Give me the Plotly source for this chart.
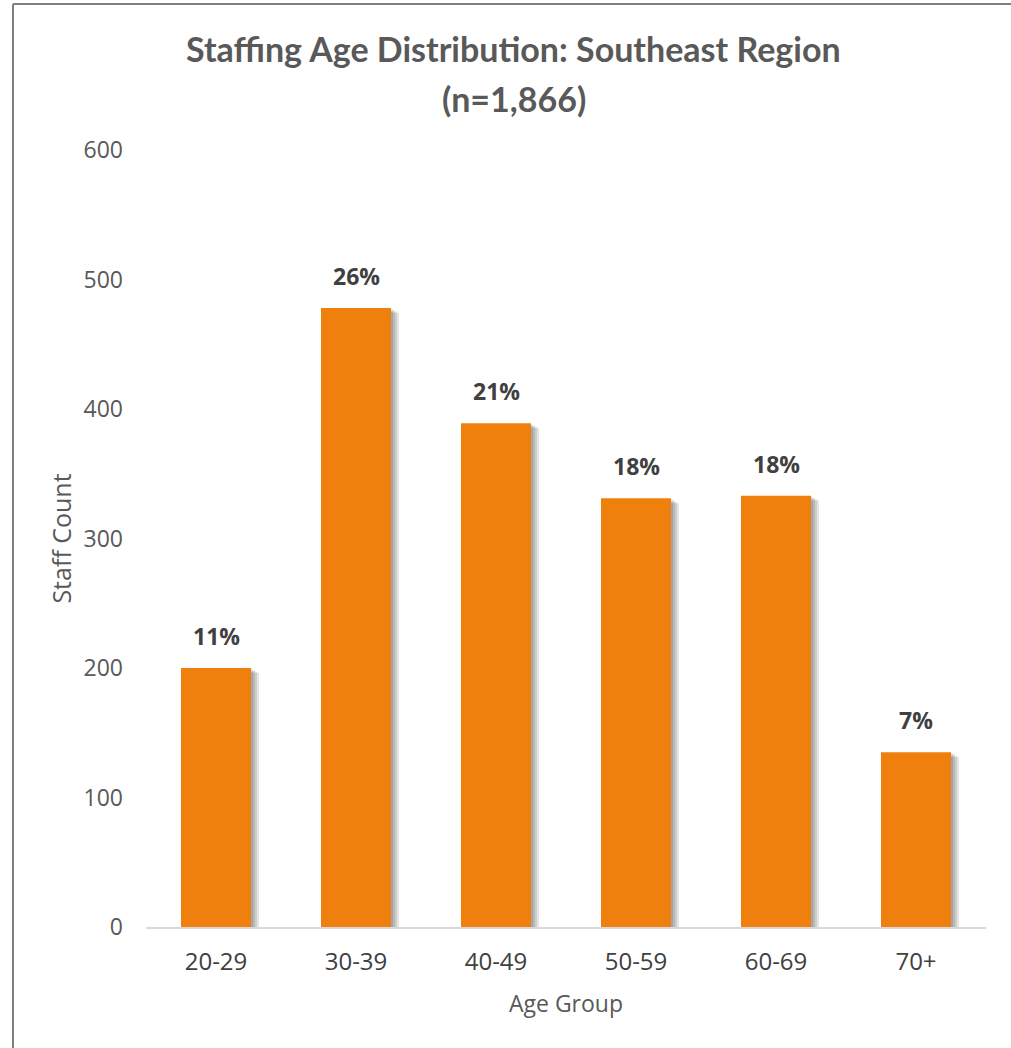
import plotly.graph_objects as go

# Staff counts by age band
age_groups = ["20-29", "30-39", "40-49", "50-59", "60-69", "70+"]
staff_counts = [200, 478, 389, 331, 333, 135]
y_ticks = [0, 100, 200, 300, 400, 500, 600]

total = sum(staff_counts)
pct_labels = [f"{round(100 * c / total)}%" for c in staff_counts]

W, H = 1011, 1048
margin = dict(l=146, r=25, t=150, b=121)
plot_w = W - margin["l"] - margin["r"]
plot_h = H - margin["t"] - margin["b"]
y_max = 600
px_x = len(age_groups) / plot_w      # category units per pixel
px_y = y_max / plot_h                # value units per pixel

BAR_W = 0.5
ORANGE = "#EF800D"
GREY_TXT = "#595959"
SANS = "Open Sans, Noto Sans, sans-serif"


def paper_x(px):
    return (px - margin["l"]) / plot_w


def paper_y(px_from_top):
    return (H - margin["b"] - px_from_top) / plot_h


fig = go.Figure()

# soft drop shadow: a few translucent grey copies of the bars, nudged right/down
for d in (2, 4, 6, 8):
    fig.add_trace(go.Bar(
        x=age_groups, y=staff_counts,
        base=[-d * px_y * 0.6] * len(staff_counts),
        width=BAR_W, offset=-BAR_W / 2 + d * px_x,
        marker=dict(color="rgba(0,0,0,0.1)", line=dict(width=0)),
        hoverinfo="skip", showlegend=False,
    ))

fig.add_trace(go.Bar(
    x=age_groups, y=staff_counts,
    width=BAR_W, offset=-BAR_W / 2,
    marker=dict(color=ORANGE, line=dict(width=0)),
    showlegend=False,
))

for g, c, lab in zip(age_groups, staff_counts, pct_labels):
    fig.add_annotation(
        x=g, y=c, text=f"<b>{lab}</b>", showarrow=False,
        yanchor="bottom", yshift=14,
        font=dict(family=SANS, size=23, color="#404040"),
    )

# two-line chart heading
fig.add_annotation(
    xref="paper", yref="paper", x=paper_x(W / 2 + 8), y=paper_y(49),
    xanchor="center", yanchor="middle", showarrow=False,
    text="<b>Staffing Age Distribution: Southeast Region</b>",
    font=dict(family="Lato", size=34, color=GREY_TXT),
)
fig.add_annotation(
    xref="paper", yref="paper", x=paper_x(W / 2 + 8), y=paper_y(99),
    xanchor="center", yanchor="middle", showarrow=False,
    text="<b>(n=1,866)</b>",
    font=dict(family="Lato", size=34, color=GREY_TXT),
)

fig.update_layout(
    width=W, height=H, margin=margin,
    paper_bgcolor="white", plot_bgcolor="white",
    barmode="overlay",
    font=dict(family=SANS, color=GREY_TXT),
    xaxis=dict(
        showline=True, linecolor="#D9D9D9", linewidth=1.5,
        showgrid=False, ticks="", ticklabelstandoff=12,
        tickfont=dict(size=24, color="#404040"),
        title=dict(text="Age Group", font=dict(size=23, color=GREY_TXT), standoff=20),
    ),
    yaxis=dict(
        range=[0, y_max], tickvals=y_ticks,
        showline=False, showgrid=False, zeroline=False,
        ticks="", ticklabelstandoff=22,
        tickfont=dict(size=23, color=GREY_TXT),
        title=dict(text="Staff Count", font=dict(size=25, color=GREY_TXT), standoff=4),
    ),
)

# outer chart frame (top and left edges)
frame = dict(color="#7F7F7F", width=2)
fig.add_shape(type="line", xref="paper", yref="paper",
              x0=paper_x(13), x1=paper_x(13), y0=paper_y(H), y1=paper_y(4),
              line=frame)
fig.add_shape(type="line", xref="paper", yref="paper",
              x0=paper_x(13), x1=paper_x(W), y0=paper_y(4), y1=paper_y(4),
              line=frame)

fig.write_html("out.html")
